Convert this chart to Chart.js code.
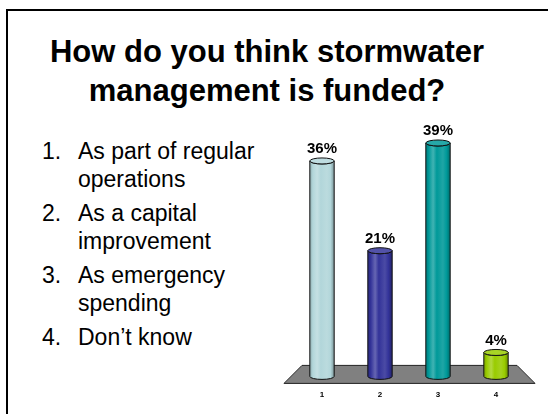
<!DOCTYPE html>
<html>
<head>
<meta charset="utf-8">
<script src="https://cdn.jsdelivr.net/npm/chart.js@4.4.1/dist/chart.umd.min.js"></script>
<style>
  html, body { margin: 0; padding: 0; background: #fff; }
  body { width: 548px; height: 414px; overflow: hidden; position: relative; font-family: "Liberation Sans", Arial, sans-serif; color: #000; }
  #frame { position: absolute; left: 6px; top: 9px; width: 600px; height: 500px; border: 2px solid #000; }
  #title { position: absolute; left: 0; top: 32px; width: 534px; text-align: center; font-weight: bold; font-size: 31px; line-height: 39px; }
  #choices { position: absolute; left: 42px; top: 137px; font-size: 23px; line-height: 28px; white-space: nowrap; }
  #choices div { position: relative; padding-left: 36px; margin-bottom: 6px; }
  #choices span { position: absolute; left: 0; top: 0; }
  #chartBox { position: absolute; left: 280px; top: 110px; width: 268px; height: 304px; }
</style>
</head>
<body>
<div id="frame"></div>
<div id="title">How do you think stormwater<br>management is funded?</div>
<div id="choices"></div>
<div id="chartBox"><canvas id="myBarChart" width="268" height="304"></canvas></div>

<script>
const answers = ["As part of regular\noperations", "As a capital\nimprovement", "As emergency\nspending", "Don\u2019t know"];
const categories = ["1", "2", "3", "4"];
const shares = [36, 21, 39, 4];
const barColors = ['#B2D6DA', '#333399', '#009999', '#99CC00'];

// liste des réponses
const list = document.getElementById("choices");
answers.forEach(function (txt, i) {
  const row = document.createElement("div");
  row.innerHTML = '<span>' + categories[i] + '.</span>' + txt.replace("\n", "<br>");
  list.appendChild(row);
});

function shade(hex, f) {
  let r = parseInt(hex.substr(1, 2), 16), g = parseInt(hex.substr(3, 2), 16), b = parseInt(hex.substr(5, 2), 16);
  if (f >= 0) { r += (255 - r) * f; g += (255 - g) * f; b += (255 - b) * f; }
  else { r *= 1 + f; g *= 1 + f; b *= 1 + f; }
  return 'rgb(' + Math.round(r) + ',' + Math.round(g) + ',' + Math.round(b) + ')';
}

// le sol gris en perspective
const floorPlugin = {
  id: 'floor',
  beforeDatasetsDraw(chart) {
    const a = chart.chartArea, ctx = chart.ctx;
    ctx.save();
    ctx.beginPath();
    ctx.moveTo(a.left + 9, a.bottom - 11);
    ctx.lineTo(a.right - 8, a.bottom - 11);
    ctx.lineTo(a.right + 10, a.bottom + 7);
    ctx.lineTo(a.left - 9, a.bottom + 7);
    ctx.closePath();
    ctx.fillStyle = '#808080';
    ctx.fill();
    ctx.lineWidth = 1;
    ctx.strokeStyle = '#222';
    ctx.stroke();
    ctx.restore();
  }
};

// barres en cylindres
const cylinderPlugin = {
  id: 'cylinders',
  beforeDatasetDraw(chart, args) {
    const ctx = chart.ctx;
    const ds = chart.data.datasets[args.index];
    args.meta.data.forEach(function (bar, i) {
      const col = ds.backgroundColor[i];
      const rx = bar.width / 2, ry = 3;
      const x = bar.x, top = bar.y, base = bar.base;
      const grad = ctx.createLinearGradient(x - rx, 0, x + rx, 0);
      grad.addColorStop(0, shade(col, -0.2));
      grad.addColorStop(0.12, col);
      grad.addColorStop(0.3, shade(col, 0.25));
      grad.addColorStop(0.45, col);
      grad.addColorStop(0.7, shade(col, 0.12));
      grad.addColorStop(0.85, col);
      grad.addColorStop(1, shade(col, -0.3));
      ctx.save();
      ctx.beginPath();
      ctx.moveTo(x - rx, top);
      ctx.lineTo(x - rx, base);
      ctx.ellipse(x, base, rx, ry, 0, Math.PI, 0, true);
      ctx.lineTo(x + rx, top);
      ctx.ellipse(x, top, rx, ry, 0, 0, Math.PI, false);
      ctx.closePath();
      ctx.fillStyle = grad;
      ctx.fill();
      ctx.lineWidth = 1;
      ctx.strokeStyle = '#111';
      ctx.stroke();
      ctx.beginPath();
      ctx.ellipse(x, top, rx, ry, 0, 0, Math.PI * 2);
      ctx.fillStyle = shade(col, 0.15);
      ctx.fill();
      ctx.stroke();
      ctx.restore();
    });
    return false;
  },
  afterDraw(chart) {
    const ctx = chart.ctx;
    const meta = chart.getDatasetMeta(0);
    ctx.save();
    ctx.font = 'bold 15px "Liberation Sans", Arial, sans-serif';
    ctx.fillStyle = '#000';
    ctx.textAlign = 'center';
    ctx.textBaseline = 'middle';
    meta.data.forEach(function (bar, i) {
      ctx.fillText(shares[i] + '%', bar.x, bar.y - 12);
    });
    ctx.restore();
  }
};

const ctx = document.getElementById("myBarChart");
const myBarChart = new Chart(ctx, {
  type: 'bar',
  data: {
    labels: categories,
    datasets: [{
      data: shares,
      backgroundColor: barColors,
      barPercentage: 0.42,
      categoryPercentage: 1.0
    }]
  },
  options: {
    responsive: false,
    animation: false,
    layout: { padding: { left: 13, right: 23, top: 27, bottom: 0 } },
    plugins: {
      legend: { display: false },
      tooltip: { enabled: false }
    },
    scales: {
      x: {
        grid: { display: false, drawTicks: false },
        border: { display: false },
        ticks: { color: '#000', padding: 14, font: { family: '"Liberation Sans", Arial, sans-serif', size: 8, weight: 'bold' } }
      },
      y: { display: false, min: 0, max: 40 }
    }
  },
  plugins: [floorPlugin, cylinderPlugin]
});
</script>
</body>
</html>
